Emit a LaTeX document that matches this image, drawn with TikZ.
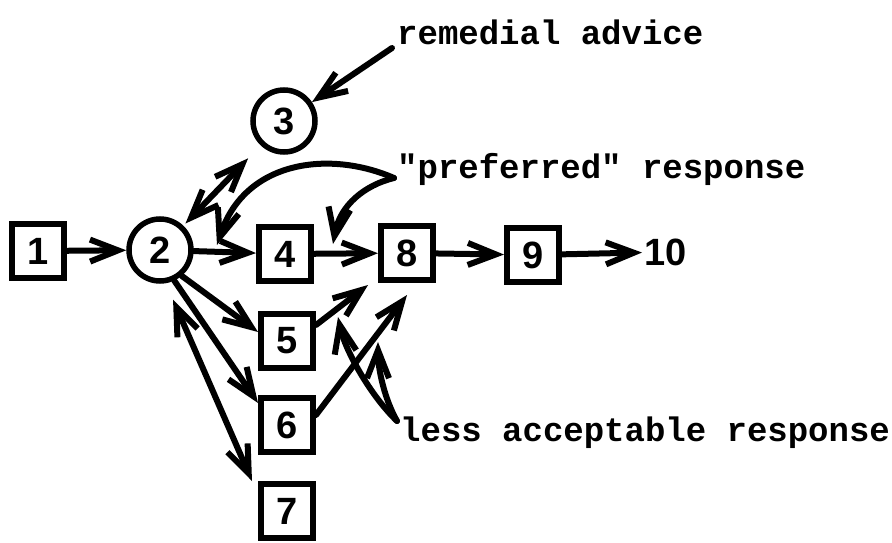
\documentclass[tikz,border=0pt]{standalone}
\usepackage{fontspec}
\setmonofont{Liberation Mono}
\newfontfamily\digitfont{Liberation Sans}
\usetikzlibrary{arrows.meta}
\begin{document}
\begin{tikzpicture}[x=1pt,y=-1pt,
  box/.style={draw,line width=6pt,minimum width=52pt,minimum height=54pt,inner sep=0pt,font=\digitfont\bfseries\fontsize{38}{38}\selectfont},
  circ/.style={circle,draw,line width=5.5pt,minimum size=62pt,inner sep=0pt,font=\digitfont\bfseries\fontsize{38}{38}\selectfont},
  lbl/.style={inner sep=2pt,font=\digitfont\bfseries\fontsize{38}{38}\selectfont},
  txt/.style={inner sep=0pt,font=\ttfamily\bfseries\fontsize{34}{34}\selectfont},
  arr/.style={line width=6pt,line cap=round,-{Straight Barb[length=28pt,width=22pt]}},
  darr/.style={line width=6pt,line cap=round,{Straight Barb[length=28pt,width=22pt]}-{Straight Barb[length=28pt,width=22pt]}}
]
\useasboundingbox (0,0) rectangle (892,543);
\node[box] (n1) at (38,251) {1};
\node[circ] (n2) at (160,250) {2};
\node[circ] (n3) at (284,121) {3};
\node[box] (n4) at (285,254) {4};
\node[box] (n8) at (407,253) {8};
\node[box] (n9) at (533,255) {9};
\node[lbl,anchor=west] (n10) at (642,252) {10};
\node[box] (n5) at (287,341) {5};
\node[box] (n6) at (287,425) {6};
\node[box] (n7) at (287,511) {7};

\node[txt,anchor=base west] (ra) at (397,45) {remedial advice};
\node[txt,anchor=base west] (pr) at (397,178) {"preferred" response};
\node[txt,anchor=base west] (la) at (400,441) {less acceptable response};

\coordinate (ra1) at (392,48);
\coordinate (pr1) at (394,178);
\coordinate (pt1) at (217,245);
\coordinate (pt2) at (333,244);
\coordinate (la1) at (397,421);
\coordinate (lt1) at (338,317);
\coordinate (lt2) at (378,342);

\draw[arr] (n1) -- (n2);
\draw[arr] (n2) -- (n4);
\draw[arr] (n4) -- (n8);
\draw[arr] (n8) -- (n9);
\draw[arr] (n9) -- (n10);
\draw[darr,shorten <=3pt,shorten >=18pt] (n2) -- (n3);
\draw[arr] (ra1) -- (n3);
\draw[arr] (pr1) .. controls (330,150) and (245,160) .. (pt1);
\draw[arr] (pr1) .. controls (365,185) and (340,205) .. (pt2);
\draw[arr] (n2.-50) -- ([yshift=9pt]n5.west);
\draw[arr] (n2.-65) -- ([yshift=22pt]n6.west);
\draw[darr,shorten <=18pt] (n2.-80) -- ([xshift=-6pt]n7.north west);
\draw[arr] ([yshift=16pt]n5.east) -- ([xshift=-10pt,yshift=-2pt]n8.south west);
\draw[arr] ([yshift=10pt]n6.east) -- ([yshift=-12pt]n8.south);
\draw[arr] (la1) .. controls (370,395) and (345,350) .. (lt1);
\draw[arr] (la1) .. controls (385,400) and (378,370) .. (lt2);
\end{tikzpicture}
\end{document}
